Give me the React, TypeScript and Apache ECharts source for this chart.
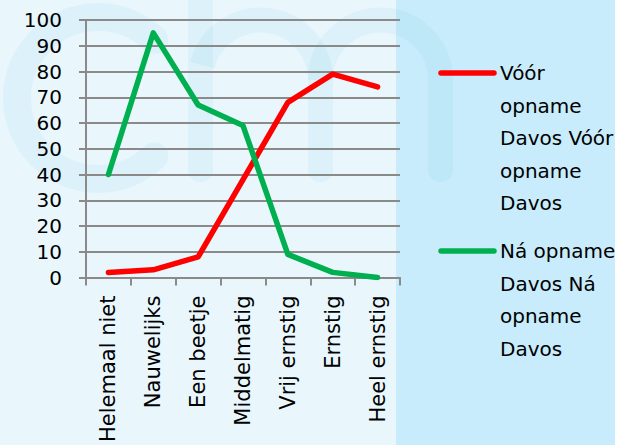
import React, { useEffect, useRef } from "react";
import * as echarts from "echarts";

const categories = [
  "Helemaal niet",
  "Nauwelijks",
  "Een beetje",
  "Middelmatig",
  "Vrij ernstig",
  "Ernstig",
  "Heel ernstig",
];
const voorValues = [2, 3, 8, 38, 68, 79, 74];
const naValues = [40, 95, 67, 59, 9, 2, 0];
const seriesNames = [
  "Vóór opname Davos Vóór opname Davos",
  "Ná opname Davos Ná opname Davos",
];
const legendTexts = [
  "Vóór\nopname\nDavos Vóór\nopname\nDavos",
  "Ná opname\nDavos Ná\nopname\nDavos",
];
const seriesColors = ["#ff0000", "#00b050"];

const FONT = "DejaVu Sans";
const GRAY = "#8a8a8a";
const WM = "rgba(110,195,230,0.1)";

export default function App() {
  const ref = useRef<HTMLDivElement>(null);
  useEffect(() => {
    document.body.style.margin = "0";
    if (!ref.current) return;
    const chart = echarts.init(ref.current, undefined, { renderer: "svg" });
    const legendY = [73, 251];
    chart.setOption({
      animation: false,
      textStyle: { fontFamily: FONT },
      grid: { left: 86, right: 230, top: 20, bottom: 167, containLabel: false },
      xAxis: {
        type: "category",
        data: categories,
        boundaryGap: true,
        axisLine: { show: true, lineStyle: { color: GRAY, width: 2 } },
        axisTick: { show: true, length: 8, alignWithLabel: false, lineStyle: { color: GRAY, width: 2 } },
        axisLabel: {
          interval: 0,
          rotate: 90,
          margin: 18,
          fontSize: 21,
          color: "#000",
          fontFamily: FONT,
        },
      },
      yAxis: {
        type: "value",
        min: 0,
        max: 100,
        interval: 10,
        axisLine: { show: true, lineStyle: { color: GRAY, width: 2 } },
        axisTick: { show: true, length: 7, lineStyle: { color: GRAY, width: 2 } },
        splitLine: { show: true, lineStyle: { color: GRAY, width: 2 } },
        axisLabel: { margin: 24, fontSize: 20, color: "#000", fontFamily: FONT },
      },
      series: [
        {
          name: seriesNames[0],
          type: "line",
          data: voorValues,
          symbol: "none",
          lineStyle: { color: seriesColors[0], width: 5.5, cap: "round", join: "round" },
          itemStyle: { color: seriesColors[0] },
        },
        {
          name: seriesNames[1],
          type: "line",
          data: naValues,
          symbol: "none",
          lineStyle: { color: seriesColors[1], width: 5.5, cap: "round", join: "round" },
          itemStyle: { color: seriesColors[1] },
        },
      ],
      graphic: [
        {
          type: "arc",
          z: -10,
          silent: true,
          shape: { cx: 98, cy: 98, r: 81, startAngle: (46 * Math.PI) / 180, endAngle: (314 * Math.PI) / 180, clockwise: true },
          style: { stroke: WM, lineWidth: 28, fill: "none", lineCap: "round" },
        },
        { type: "rect", z: -10, silent: true, shape: { x: 188, y: -10, width: 25, height: 192, r: [0, 0, 12, 12] }, style: { fill: WM } },
        {
          type: "arc",
          z: -10,
          silent: true,
          shape: { cx: 260.5, cy: 80, r: 60, startAngle: Math.PI * 1.08, endAngle: Math.PI * 2, clockwise: true },
          style: { stroke: WM, lineWidth: 25, fill: "none" },
        },
        { type: "rect", z: -10, silent: true, shape: { x: 308, y: 80, width: 25, height: 102, r: [0, 0, 12, 12] }, style: { fill: WM } },
        {
          type: "arc",
          z: -10,
          silent: true,
          shape: { cx: 380.5, cy: 80, r: 60, startAngle: Math.PI, endAngle: Math.PI * 2, clockwise: true },
          style: { stroke: WM, lineWidth: 25, fill: "none" },
        },
        { type: "rect", z: -10, silent: true, shape: { x: 428, y: 80, width: 25, height: 102, r: [0, 0, 12, 12] }, style: { fill: WM } },
        ...legendTexts.flatMap((t, i) => [
          {
            type: "line",
            shape: { x1: 441, y1: legendY[i], x2: 494, y2: legendY[i] },
            style: { stroke: seriesColors[i], lineWidth: 5.5, lineCap: "round" },
          },
          {
            type: "text",
            x: 500,
            y: legendY[i] - 16.25,
            style: {
              text: t,
              fill: "#000",
              fontSize: 20,
              fontFamily: FONT,
              lineHeight: 32.5,
              align: "left",
              verticalAlign: "top",
            },
          },
        ]),
      ],
    });
    return () => chart.dispose();
  }, []);
  return (
    <div
      ref={ref}
      style={{
        width: 630,
        height: 445,
        background:
          "linear-gradient(to right, #e9f7fd 0px, #e9f7fd 396px, #c8ecfb 396px, #c8ecfb 615px, #ffffff 615px)",
      }}
    />
  );
}
